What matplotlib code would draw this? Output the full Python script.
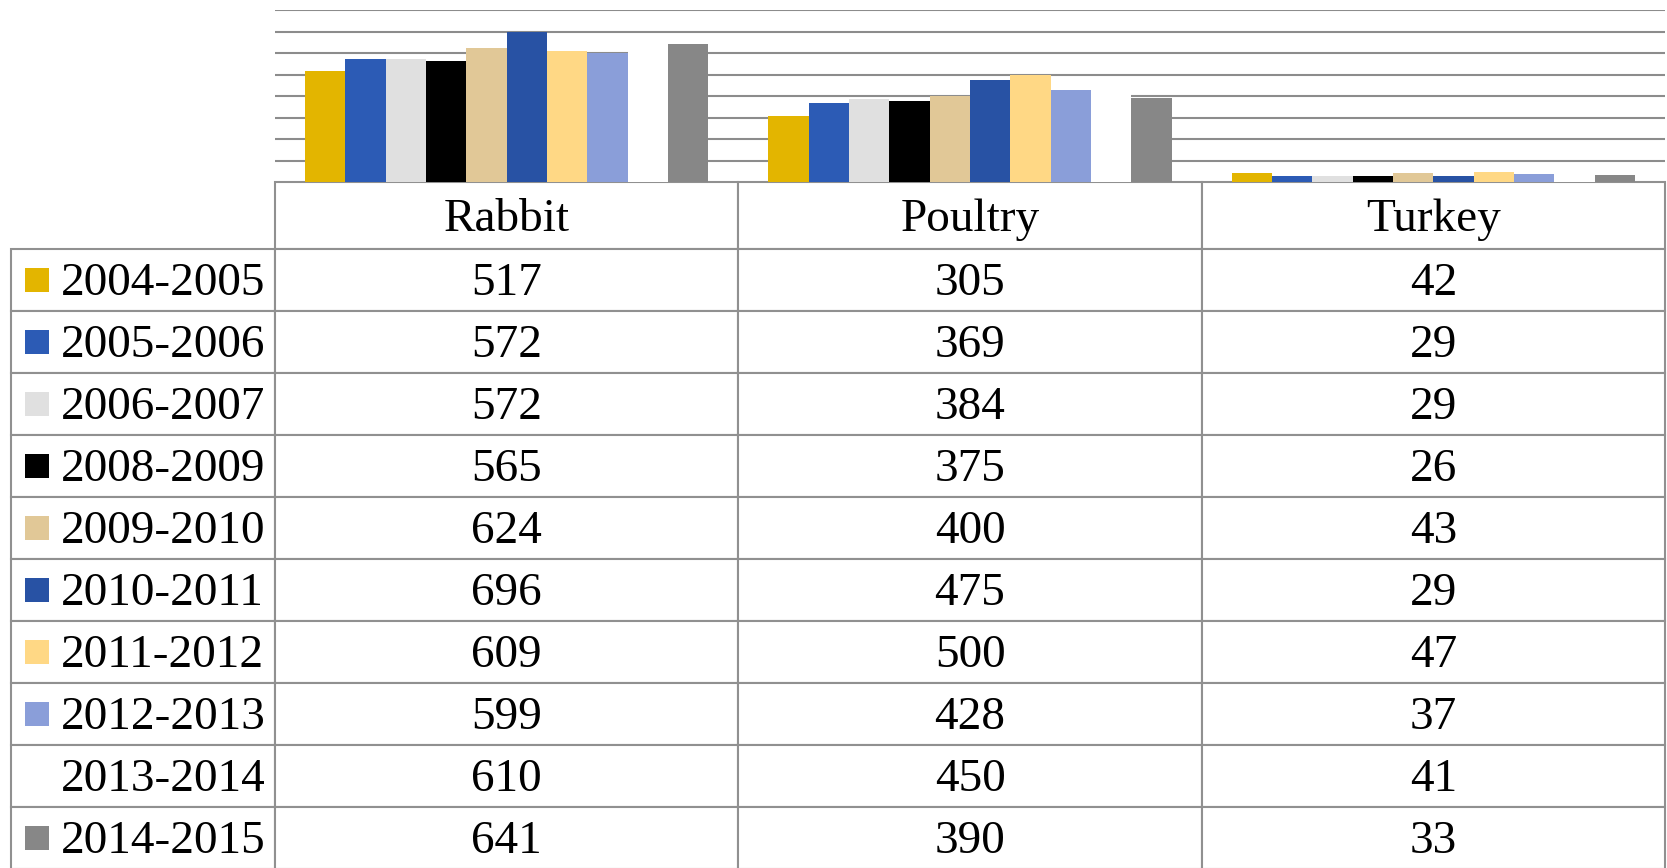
#!/usr/bin/env python3
# Rabbit / Poultry / Turkey by season: bar chart with data table underneath

import numpy as np
import matplotlib
matplotlib.use("Agg")
import matplotlib.pyplot as plt
from matplotlib.table import Table
from matplotlib.patches import Rectangle
from matplotlib.transforms import Affine2D

# -----------------------------
# Data
# -----------------------------
categories = ["Rabbit", "Poultry", "Turkey"]
seasons = ["2004-2005", "2005-2006", "2006-2007", "2008-2009", "2009-2010",
           "2010-2011", "2011-2012", "2012-2013", "2013-2014", "2014-2015"]
rabbit = [517, 572, 572, 565, 624, 696, 609, 599, 610, 641]
poultry = [305, 369, 384, 375, 400, 475, 500, 428, 450, 390]
turkey = [42, 29, 29, 26, 43, 29, 47, 37, 41, 33]
colors = ["#E3B500", "#2C5BB5", "#E0E0E0", "#000000", "#E1C897",
          "#2852A4", "#FFD885", "#8A9ED9", "#FFFFFF", "#878787"]

values = np.array([rabbit, poultry, turkey]).T   # rows = seasons

# -----------------------------
# Layout (pixels of a 1667 x 868 image)
# -----------------------------
W, H = 1667, 868
ax_left, ax_right, ax_top, ax_bottom = 275, 1665, 10, 182
tab_left, tab_bottom = 11, 869
header_h, row_h = 67, 62
label_w = ax_left - tab_left
col_w = (ax_right - ax_left) / len(categories)

plt.rcParams["font.family"] = ["Liberation Serif", "DejaVu Serif"]

fig = plt.figure(figsize=(W / 100, H / 100), dpi=100)
ax = fig.add_axes([ax_left / W, 1 - ax_bottom / H,
                   (ax_right - ax_left) / W, (ax_bottom - ax_top) / H])

# -----------------------------
# Bars
# -----------------------------
x = np.arange(len(categories))
n = len(seasons)
group = 0.87
bw = group / n
for i, (s, c) in enumerate(zip(seasons, colors)):
    ax.bar(x - group / 2 + bw * (i + 0.5), values[i], width=bw,
           color=c, edgecolor="none", zorder=2)

ax.set_xlim(-0.5, len(categories) - 0.5)
ax.set_ylim(0, 800)
ax.set_yticks(np.arange(100, 801, 100))
ax.yaxis.grid(True, color="#8c8c8c", linewidth=1.5)
ax.set_axisbelow(True)
ax.tick_params(left=False, bottom=False, labelleft=False, labelbottom=False)
for sp in ax.spines.values():
    sp.set_visible(False)

# -----------------------------
# Data table
# -----------------------------
ax_h = ax_bottom - ax_top
ax_w = ax_right - ax_left
tab_h = tab_bottom - ax_bottom
bbox = [(tab_left - ax_left) / ax_w, -tab_h / ax_h,
        (ax_right - tab_left) / ax_w, tab_h / ax_h]
tab = Table(ax, bbox=bbox)
edge = "#909090"

hdr = tab.add_cell(0, 0, width=label_w, height=header_h, text="")
hdr.visible_edges = ""
for j, cat in enumerate(categories):
    tab.add_cell(0, j + 1, width=col_w, height=header_h, text=cat, loc="center")

for i, s in enumerate(seasons):
    cell = tab.add_cell(i + 1, 0, width=label_w, height=row_h, text=s, loc="left")
    cell.PAD = 50 / label_w
    for j in range(len(categories)):
        tab.add_cell(i + 1, j + 1, width=col_w, height=row_h,
                     text=str(values[i, j]), loc="center")

for cell in tab.get_celld().values():
    cell.set_edgecolor(edge)
    cell.set_linewidth(1.5)
    # nudge text down a little, like the original
    cell.get_text().set_transform(Affine2D().translate(0, -4))
tab.auto_set_font_size(False)
tab.set_fontsize(34)
ax.add_table(tab)

# legend keys in the row label cells
for i, c in enumerate(colors):
    if c.upper() == "#FFFFFF":
        continue
    yc = ax_bottom + header_h + row_h * i + row_h / 2
    ax.add_patch(Rectangle(((25 - ax_left) / ax_w, (ax_bottom - yc - 12) / ax_h),
                           24 / ax_w, 24 / ax_h, transform=ax.transAxes,
                           facecolor=c, edgecolor="none", clip_on=False))

fig.savefig("out.png", dpi=100)
plt.close(fig)
